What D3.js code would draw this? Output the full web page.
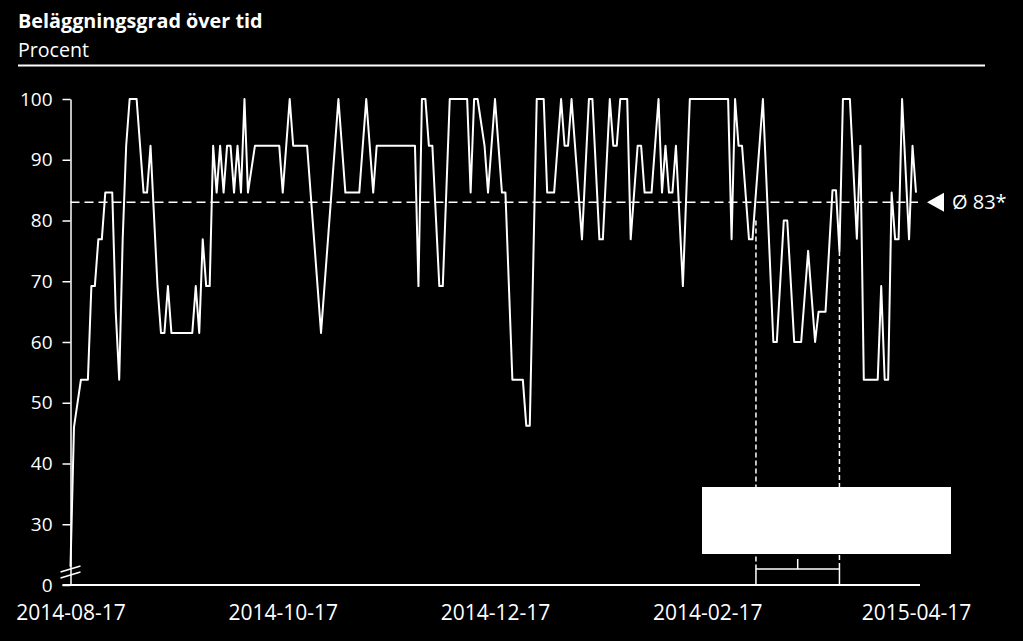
<!DOCTYPE html>
<html>
<head>
<meta charset="utf-8">
<script src="https://cdn.jsdelivr.net/npm/d3@7"></script>
<style>
  body { margin: 0; background: #000; }
  svg { display: block; background: #000; font-family: "Open Sans", sans-serif; }
</style>
</head>
<body>
<svg id="chart" width="1023" height="641"></svg>
<script>
// day offset from 2014-08-17 and occupancy (%) at that day (line vertices)
var days = [0, 1, 3, 5, 6, 7, 8, 9, 10, 12, 13, 14, 15, 16, 17, 19, 21, 22, 23, 25,
  26, 27, 28, 29, 35, 36, 37, 38, 39, 40, 41, 42, 43, 44, 45, 46, 47, 48, 49, 50,
  51, 53, 60, 61, 63, 64, 68, 70, 72, 75, 77, 79, 83, 85, 87, 88, 99, 100, 101, 102,
  103, 104, 106, 107, 109, 114, 115, 116, 117, 119, 120, 122, 124, 125, 127, 130, 131, 132, 134, 136,
  137, 139, 141, 142, 143, 144, 146, 147, 149, 150, 152, 153, 155, 156, 157, 158, 160, 161, 163, 164,
  165, 167, 169, 170, 171, 172, 173, 174, 176, 178, 189, 190, 191, 192, 193, 195, 196, 199, 202, 203,
  205, 206, 208, 210, 212, 214, 215, 217, 219, 220, 221, 222, 224, 226, 227, 228, 232, 233, 234, 235,
  236, 237, 238, 239, 241, 242, 243];
var values = [23, 46, 53.8, 53.8, 69.2, 69.2, 76.9, 76.9, 84.6, 84.6, 65, 53.8, 76.9, 92.3, 100, 100, 84.6, 84.6, 92.3, 69.2,
  61.5, 61.5, 69.2, 61.5, 61.5, 69.2, 61.5, 76.9, 69.2, 69.2, 92.3, 84.6, 92.3, 84.6, 92.3, 92.3, 84.6, 92.3, 84.6, 100,
  84.6, 92.3, 92.3, 84.6, 100, 92.3, 92.3, 76.9, 61.5, 84.6, 100, 84.6, 84.6, 100, 84.6, 92.3, 92.3, 69.2, 100, 100,
  92.3, 92.3, 69.2, 69.2, 100, 100, 84.6, 100, 100, 92.3, 84.6, 100, 84.6, 84.6, 53.8, 53.8, 46.2, 46.2, 100, 100,
  84.6, 84.6, 100, 92.3, 92.3, 100, 84.6, 76.9, 100, 100, 76.9, 76.9, 100, 92.3, 92.3, 100, 100, 76.9, 92.3, 92.3,
  84.6, 84.6, 100, 84.6, 92.3, 84.6, 84.6, 92.3, 69.2, 100, 100, 76.9, 100, 92.3, 92.3, 76.9, 76.9, 100, 60, 60,
  80, 80, 60, 60, 75, 60, 65, 65, 85, 85, 75, 100, 100, 77, 92.3, 53.8, 53.8, 69.2, 53.8, 53.8,
  84.6, 76.9, 76.9, 100, 76.9, 92.3, 84.6];

var average = 83;
var tickDays = [0, 61, 122, 183, 243];
var tickLabels = ["2014-08-17", "2014-10-17", "2014-12-17", "2014-02-17", "2015-04-17"];
var yTicks = [20, 30, 40, 50, 60, 70, 80, 90, 100];
var yLabels = ["0", "30", "40", "50", "60", "70", "80", "90", "100"];
var periodDays = [197, 221];
var periodTop = [80, 75];

var svg = d3.select("#chart");

var x = d3.scaleLinear().domain([0, 243]).range([70.5, 916]);
var y = d3.scaleLinear().domain([20, 100]).range([585, 99]);

// title block
svg.append("text").attr("x", 18).attr("y", 28)
   .attr("fill", "#fff").attr("font-weight", "bold").attr("font-size", 19.8)
   .text("Beläggningsgrad över tid");
svg.append("text").attr("x", 18).attr("y", 57)
   .attr("fill", "#fff").attr("font-size", 19.6)
   .text("Procent");
svg.append("line").attr("x1", 18).attr("x2", 985).attr("y1", 65.5).attr("y2", 65.5)
   .attr("stroke", "#fff").attr("stroke-width", 1.8);

// y axis
var yAxis = svg.append("g")
   .attr("transform", "translate(" + x(0) + ",0)")
   .call(d3.axisLeft(y).tickValues(yTicks)
         .tickFormat(function(d, i) { return yLabels[i]; })
         .tickSize(8).tickSizeOuter(0).tickPadding(10));
yAxis.selectAll("path, line").attr("stroke", "#fff").attr("stroke-width", 1.5);
yAxis.selectAll("text").attr("fill", "#fff").attr("font-size", 19)
   .attr("font-family", "Open Sans, sans-serif");

// x axis
var xAxis = svg.append("g")
   .attr("transform", "translate(0," + y(20) + ")")
   .call(d3.axisBottom(x).tickValues(tickDays)
         .tickFormat(function(d, i) { return tickLabels[i]; })
         .tickSize(0).tickPadding(20));
xAxis.select(".domain").remove();
xAxis.selectAll("text").attr("fill", "#fff").attr("font-size", 21)
   .attr("font-family", "Open Sans, sans-serif");
svg.append("line")
   .attr("x1", x(0) - 8).attr("x2", x(243) + 4)
   .attr("y1", y(20)).attr("y2", y(20))
   .attr("stroke", "#fff").attr("stroke-width", 1.8);

// axis break marks
[10, 16].forEach(function(off) {
  svg.append("line")
     .attr("x1", x(0) - 10).attr("y1", y(20) - off + 3)
     .attr("x2", x(0) + 10).attr("y2", y(20) - off - 3)
     .attr("stroke", "#fff").attr("stroke-width", 1.5);
});

// average line
svg.append("line")
   .attr("x1", x(0)).attr("x2", x(243) + 2)
   .attr("y1", y(average)).attr("y2", y(average))
   .attr("stroke", "#fff").attr("stroke-width", 1.5)
   .attr("stroke-dasharray", "9,5");

// period markers
periodDays.forEach(function(d, i) {
  svg.append("line")
     .attr("x1", x(d)).attr("x2", x(d))
     .attr("y1", y(periodTop[i])).attr("y2", y(20) - 19)
     .attr("stroke", "#fff").attr("stroke-width", 1.5)
     .attr("stroke-dasharray", "5,3");
  svg.append("line")
     .attr("x1", x(d)).attr("x2", x(d))
     .attr("y1", y(20) - 19).attr("y2", y(20))
     .attr("stroke", "#fff").attr("stroke-width", 1.5);
});

// data line
var pts = days.map(function(d, i) { return [d, values[i]]; });
svg.append("path")
   .datum(pts)
   .attr("fill", "none")
   .attr("stroke", "#fff")
   .attr("stroke-width", 2)
   .attr("stroke-linejoin", "round")
   .attr("d", d3.line()
       .x(function(d) { return x(d[0]); })
       .y(function(d) { return y(d[1]); }));

// bracket under the period
var bx1 = x(periodDays[0]), bx2 = x(periodDays[1]), by = y(20) - 16;
svg.append("path")
   .attr("d", "M" + bx1 + "," + by + "H" + bx2 + "M" + ((bx1 + bx2) / 2) + "," + by + "v-10")
   .attr("stroke", "#fff").attr("stroke-width", 1.5).attr("fill", "none");

// white label box
svg.append("rect")
   .attr("x", 702).attr("y", 487).attr("width", 249).attr("height", 67)
   .attr("fill", "#fff");

// average marker and label
var ay = y(average), ax = x(243) + 11;
svg.append("path")
   .attr("d", "M" + ax + "," + ay + "L" + (ax + 17) + "," + (ay - 9.5) + "L" + (ax + 17) + "," + (ay + 9.5) + "Z")
   .attr("fill", "#fff");
svg.append("text")
   .attr("x", ax + 25).attr("y", ay)
   .attr("dy", "0.36em")
   .attr("fill", "#fff").attr("font-size", 20)
   .text("Ø " + average + "*");
</script>
</body>
</html>
